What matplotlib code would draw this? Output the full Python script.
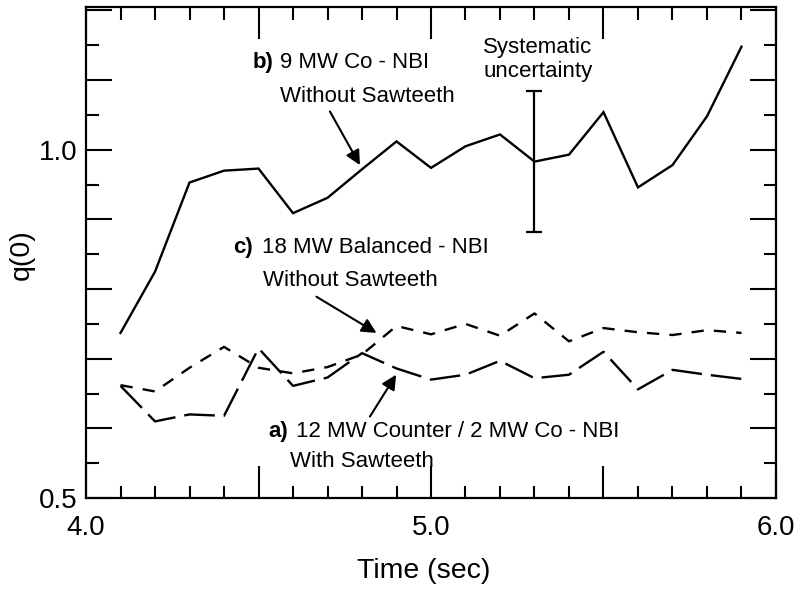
import matplotlib
matplotlib.use("Agg")
import matplotlib.pyplot as plt
from matplotlib.ticker import FixedLocator, FuncFormatter

plt.rcParams['font.family'] = ['Liberation Sans', 'DejaVu Sans']

# Data
times = [4.1, 4.2, 4.3, 4.4, 4.5, 4.6, 4.7, 4.8, 4.9, 5.0,
         5.1, 5.2, 5.3, 5.4, 5.5, 5.6, 5.7, 5.8, 5.9]
q_b_co = [0.737, 0.825, 0.953, 0.970, 0.973, 0.909, 0.931, 0.972, 1.012, 0.974,
          1.005, 1.022, 0.983, 0.993, 1.054, 0.946, 0.978, 1.048, 1.148]
q_c_bal = [0.662, 0.653, 0.687, 0.717, 0.687, 0.679, 0.688, 0.706, 0.747, 0.735,
           0.750, 0.733, 0.765, 0.725, 0.744, 0.738, 0.734, 0.741, 0.737]
q_a_ctr = [0.661, 0.610, 0.620, 0.618, 0.715, 0.661, 0.673, 0.708, 0.686, 0.670,
           0.677, 0.697, 0.672, 0.677, 0.710, 0.656, 0.684, 0.677, 0.671]
err_time = [5.3]
err_val = [0.983]
err_size = [0.101]

x_labels = [4.0, 5.0, 6.0]
y_labels = [0.5, 1.0]

fig = plt.figure(figsize=(7.98, 5.93), dpi=100)
ax = fig.add_axes([0.1078, 0.1602, 0.8646, 0.828])

lw = 1.7
ax.plot(times, q_b_co, color='black', lw=lw, solid_joinstyle='miter')
ax.plot(times, q_c_bal, color='black', lw=lw, dashes=(5.2, 4.3))
ax.plot(times, q_a_ctr, color='black', lw=lw, dashes=(13, 3.8))
ax.errorbar(err_time, err_val, yerr=err_size, fmt='none', ecolor='black',
            elinewidth=1.6, capsize=6, capthick=1.6)

ax.set_xlim(4.0, 6.0)
ax.set_ylim(0.5, 1.205)

ax.xaxis.set_major_locator(FixedLocator([4.0, 4.5, 5.0, 5.5, 6.0]))
ax.xaxis.set_minor_locator(FixedLocator([4 + 0.1 * i for i in range(21)]))
ax.yaxis.set_major_locator(FixedLocator([0.5 + 0.1 * i for i in range(8)]))
ax.yaxis.set_minor_locator(FixedLocator([0.55 + 0.1 * i for i in range(7)]))

def xfmt(v, pos):
    return f"{v:.1f}" if any(abs(v - t) < 1e-6 for t in x_labels) else ""

def yfmt(v, pos):
    return f"{v:.1f}" if any(abs(v - t) < 1e-6 for t in y_labels) else ""

ax.xaxis.set_major_formatter(FuncFormatter(xfmt))
ax.yaxis.set_major_formatter(FuncFormatter(yfmt))

ax.tick_params(axis='both', which='both', direction='in', top=True, right=True,
               width=1.5, labelsize=20)
ax.tick_params(axis='x', which='major', length=23, pad=12)
ax.tick_params(axis='x', which='minor', length=9)
ax.tick_params(axis='y', which='major', length=19, pad=6)
ax.tick_params(axis='y', which='minor', length=9)
for s in ax.spines.values():
    s.set_linewidth(1.6)

ax.set_xlabel("Time (sec)", fontsize=20.5)
ax.set_ylabel("q(0)", fontsize=20.5)
ax.xaxis.label.set_va('center')
ax.yaxis.label.set_va('center')
ax.xaxis.set_label_coords(0.4899, -0.1487)
ax.yaxis.set_label_coords(-0.0928, 0.4965)

fs = 16
arrow_kw = dict(arrowstyle='-|>', mutation_scale=22, lw=1.5,
                color='black', shrinkA=0, shrinkB=0)
# b)
ax.text(4.484, 1.125, "b)", fontsize=fs, fontweight='bold', ha='left', va='center')
ax.text(4.562, 1.125, "9 MW Co - NBI", fontsize=fs, ha='left', va='center')
ax.text(4.562, 1.076, "Without Sawteeth", fontsize=fs, ha='left', va='center')
ax.annotate("", xy=(4.794, 0.978), xytext=(4.707, 1.055), arrowprops=arrow_kw)
# c)
ax.text(4.426, 0.859, "c)", fontsize=fs, fontweight='bold', ha='left', va='center')
ax.text(4.510, 0.859, "18 MW Balanced - NBI", fontsize=fs, ha='left', va='center')
ax.text(4.513, 0.813, "Without Sawteeth", fontsize=fs, ha='left', va='center')
ax.annotate("", xy=(4.842, 0.737), xytext=(4.668, 0.789), arrowprops=arrow_kw)
# a)
ax.text(4.528, 0.596, "a)", fontsize=fs, fontweight='bold', ha='left', va='center')
ax.text(4.608, 0.596, "12 MW Counter / 2 MW Co - NBI", fontsize=fs, ha='left', va='center')
ax.text(4.592, 0.553, "With Sawteeth", fontsize=fs, ha='left', va='center')
ax.annotate("", xy=(4.899, 0.677), xytext=(4.823, 0.617), arrowprops=arrow_kw)
# Systematic uncertainty
ax.text(5.310, 1.1466, "Systematic", fontsize=fs, ha='center', va='center')
ax.text(5.310, 1.113, "uncertainty", fontsize=fs, ha='center', va='center')

fig.savefig("out.png", dpi=100)
